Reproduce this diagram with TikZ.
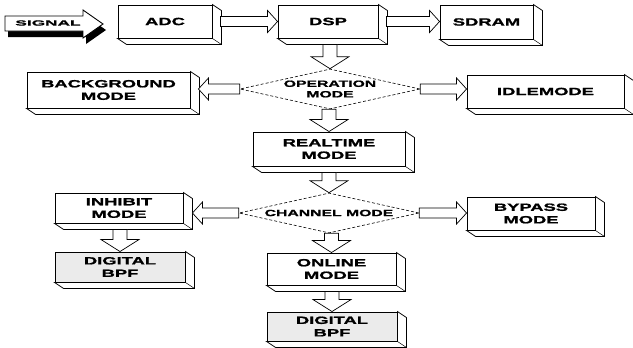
\documentclass[tikz,border=0pt]{standalone}
\usepackage{fontspec}
\newfontfamily\boxfont[FakeStretch=1.75,FakeBold=1.5]{Liberation Sans}
\newfontfamily\signalfont[FakeStretch=2.3,FakeBold=1.5]{Liberation Sans}
\usetikzlibrary{shapes.geometric}
\usetikzlibrary{calc}

\tikzset{
  modebox/.style={draw, line width=0.9pt, fill=white, align=center, inner sep=0pt,
    font=\boxfont\bfseries\fontsize{10.5}{12.5}\selectfont},
  filterbox/.style={modebox, fill=black!8},
  modediamond/.style={diamond, draw, densely dashed, line width=0.6pt, aspect=4.5,
    inner xsep=0pt, inner ysep=-4pt, minimum width=180pt, minimum height=40pt,
    align=center, font=\boxfont\bfseries\fontsize{9}{10.5}\selectfont},
  blockarrow/.style={draw, line width=0.7pt, fill=white, line join=miter}
}

% side and bottom face of a box
\newcommand{\extrude}[1]{%
  \draw[line width=0.8pt, fill=white] (#1.north east) -- ++(9pt,-6pt)
    -- ([shift={(9pt,-6pt)}]#1.south east) -- ([shift={(9pt,-6pt)}]#1.south west)
    -- (#1.south west) -- (#1.south east) -- cycle;
  \draw[line width=0.5pt] (#1.south east) -- ++(9pt,-6pt);}

% hollow arrows
\newcommand{\harrow}[2]{%
  \draw[blockarrow] let \p1=(#1), \p2=(#2), \n1={ifthenelse(\x2>\x1,1,-1)} in
    (\x1,{\y1+5pt}) -- ({\x2-\n1*10pt},{\y1+5pt}) -- ({\x2-\n1*10pt},{\y1+11pt})
    -- (\x2,\y1) -- ({\x2-\n1*10pt},{\y1-11pt}) -- ({\x2-\n1*10pt},{\y1-5pt})
    -- (\x1,{\y1-5pt}) -- cycle;}
\newcommand{\varrow}[2]{%
  \draw[blockarrow] let \p1=(#1), \p2=(#2) in
    ({\x2-7pt},\y1) -- ({\x2-7pt},{\y2+12pt}) -- ({\x2-19pt},{\y2+12pt})
    -- (\x2,\y2) -- ({\x2+19pt},{\y2+12pt}) -- ({\x2+7pt},{\y2+12pt})
    -- ({\x2+7pt},\y1) -- cycle;}

\begin{document}
\begin{tikzpicture}[x=1pt,y=-1pt]
  \useasboundingbox (0,0) rectangle (633,348);

  % input arrow
  \fill (8,22) -- (86,22) -- (86,16) -- (106,30) -- (86,44) -- (86,37) -- (8,37) -- cycle;
  \draw[line width=0.9pt, fill=white] (5,16) -- (83,16) -- (83,10) -- (103,24)
    -- (83,38) -- (83,31) -- (5,31) -- cycle;
  \node[font=\signalfont\bfseries\fontsize{7.5}{8}\selectfont] (signal) at (48,23) {SIGNAL};

  % top row
  \node[modebox, minimum width=94pt, minimum height=33pt] (adc) at (165,21.5) {ADC};
  \node[modebox, minimum width=100pt, minimum height=33pt] (dsp) at (328,21.5) {DSP};
  \node[modebox, minimum width=93pt, minimum height=34pt] (sdram) at (486.5,22) {SDRAM};
  \extrude{adc}
  \extrude{dsp}
  \extrude{sdram}

  % operation mode
  \node[modediamond] (op) at (330,89) {OPERATION\\MODE};
  \node[modebox, minimum width=163pt, minimum height=36pt] (bg) at (108.5,90) {BACKGROUND\\MODE};
  \node[modebox, minimum width=157pt, minimum height=33pt] (idle) at (545.5,91.5) {IDLEMODE};
  \node[modebox, minimum width=152pt, minimum height=34pt] (rt) at (329,149) {REALTIME\\MODE};
  \extrude{bg}
  \extrude{idle}
  \extrude{rt}

  % channel mode
  \node[modediamond] (ch) at (329,213) {CHANNEL MODE};
  \node[modebox, minimum width=128pt, minimum height=30pt] (inh) at (119,208) {INHIBIT\\MODE};
  \node[modebox, minimum width=128pt, minimum height=33pt] (byp) at (531,213.5) {BYPASS\\MODE};
  \node[filterbox, minimum width=130pt, minimum height=30pt] (bpfa) at (120,267) {DIGITAL\\BPF};
  \node[modebox, minimum width=129pt, minimum height=32pt] (onl) at (331.5,269) {ONLINE\\MODE};
  \node[filterbox, minimum width=130pt, minimum height=29pt] (bpfb) at (332,326.5) {DIGITAL\\BPF};
  \extrude{inh}
  \extrude{byp}
  \extrude{bpfa}
  \extrude{onl}
  \extrude{bpfb}

  % connectors
  \harrow{[xshift=8pt]adc.east}{dsp.west}
  \harrow{[xshift=8pt]dsp.east}{sdram.west}
  \varrow{[yshift=-6pt]dsp.south}{op.north}
  \harrow{op.west}{[xshift=8pt]bg.east}
  \harrow{op.east}{idle.west}
  \varrow{op.south}{rt.north}
  \varrow{[yshift=-6pt]rt.south}{ch.north}
  \harrow{ch.west}{[xshift=9pt]inh.east}
  \harrow{ch.east}{byp.west}
  \varrow{[yshift=-6pt]inh.south}{bpfa.north}
  \varrow{ch.south}{onl.north}
  \varrow{[yshift=-6pt]onl.south}{bpfb.north}
\end{tikzpicture}
\end{document}
